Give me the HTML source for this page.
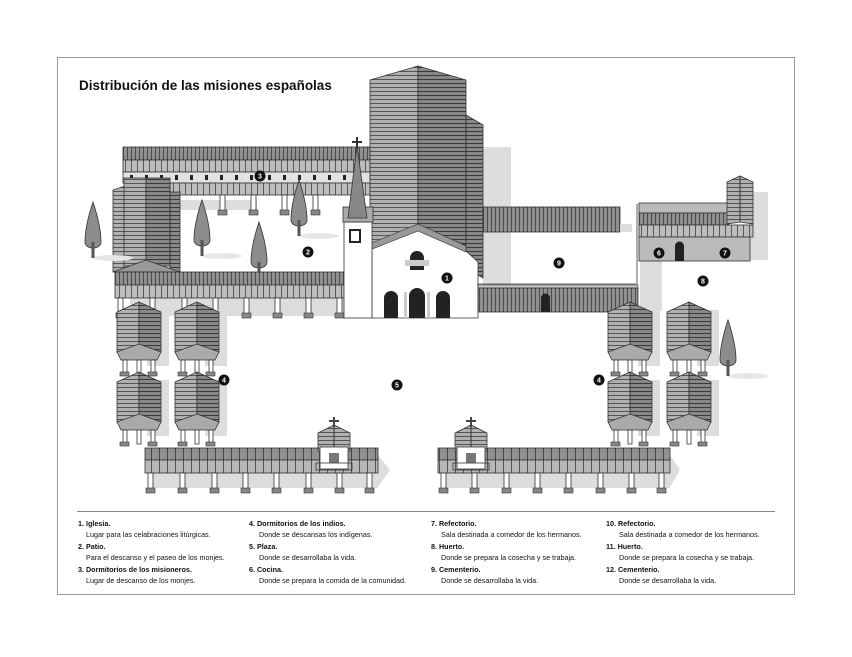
<!DOCTYPE html>
<html><head><meta charset="utf-8"><style>
html,body{margin:0;padding:0;background:#fff;}
body{width:852px;height:652px;overflow:hidden;font-family:"Liberation Sans",sans-serif;}
</style></head><body>
<svg width="852" height="652" viewBox="0 0 852 652" xmlns="http://www.w3.org/2000/svg" font-family="Liberation Sans, sans-serif">
<defs>
<pattern id="hs" width="6" height="4" patternUnits="userSpaceOnUse"><rect width="6" height="4" fill="#b0b0b0"/><rect y="3" width="6" height="1" fill="#555"/></pattern>
<pattern id="hsd" width="6" height="4" patternUnits="userSpaceOnUse"><rect width="6" height="4" fill="#888"/><rect y="3" width="6" height="1" fill="#3a3a3a"/></pattern>
<pattern id="vs" width="4" height="6" patternUnits="userSpaceOnUse"><rect width="4" height="6" fill="#909090"/><rect x="3" width="1" height="6" fill="#4a4a4a"/></pattern>
<pattern id="vsl" width="6" height="6" patternUnits="userSpaceOnUse"><rect width="6" height="6" fill="#bdbdbd"/><rect x="5" width="1" height="6" fill="#5a5a5a"/></pattern>
<pattern id="vsc" width="8" height="6" patternUnits="userSpaceOnUse"><rect width="8" height="6" fill="#909090"/><rect x="7" width="1" height="6" fill="#444"/></pattern>
<pattern id="vscl" width="8" height="6" patternUnits="userSpaceOnUse"><rect width="8" height="6" fill="#b8b8b8"/><rect x="7" width="1" height="6" fill="#555"/></pattern>
<g id="hut">
<rect x="30" y="8" width="22" height="56" fill="#ddd"/>
<polygon points="0,10 22,0 22,46 0,50" fill="url(#hs)" stroke="#333" stroke-width="0.8"/>
<polygon points="22,0 44,10 44,50 22,46" fill="url(#hsd)" stroke="#333" stroke-width="0.8"/>
<polygon points="0,50 22,42 44,50 40,58 4,58" fill="#aaa" stroke="#333" stroke-width="0.8"/>
<rect x="6" y="58" width="4" height="14" fill="#fff" stroke="#333" stroke-width="0.8"/>
<rect x="20" y="58" width="4" height="14" fill="#fff" stroke="#333" stroke-width="0.8"/>
<rect x="34" y="58" width="4" height="14" fill="#fff" stroke="#333" stroke-width="0.8"/>
<rect x="3" y="70" width="9" height="4" fill="#888" stroke="#333" stroke-width="0.6"/>
<rect x="31" y="70" width="9" height="4" fill="#888" stroke="#333" stroke-width="0.6"/>
</g>
<g id="tree">
<ellipse cx="20" cy="28" rx="20" ry="3" fill="#e6e6e6"/>
<path d="M0,-28 C-4,-16 -8,0 -8,12 C-8,20 8,20 8,12 C8,0 4,-16 0,-28Z" fill="#8c8c8c" stroke="#333" stroke-width="0.8"/>
<rect x="-1.5" y="12" width="3" height="16" fill="#555"/>
</g>
<g id="post"><rect x="0" y="0" width="5" height="16" fill="#fff" stroke="#333" stroke-width="0.8"/><rect x="-2" y="15" width="9" height="5" fill="#888" stroke="#333" stroke-width="0.6"/></g>
<g id="chapel">
<polygon points="0,8 16,0 32,8 32,26 0,26" fill="url(#hs)" stroke="#333" stroke-width="0.8"/>
<line x1="16" y1="0" x2="16" y2="26" stroke="#333"/>
<rect x="15" y="-8" width="2" height="10" fill="#444"/><rect x="11" y="-5" width="10" height="2" fill="#444"/>
<rect x="2" y="22" width="28" height="22" fill="#fff" stroke="#333" stroke-width="0.8"/>
<rect x="11" y="28" width="10" height="10" fill="#777"/>
<rect x="-2" y="38" width="36" height="7" fill="none" stroke="#333" stroke-width="0.8"/>
</g>
</defs>

<rect x="57.5" y="57.5" width="737" height="537" fill="#fff" stroke="#999" stroke-width="1"/>
<text x="79" y="90" font-size="13.5" font-weight="bold" fill="#111">Distribución de las misiones españolas</text>

<rect x="483" y="147" width="28" height="60" fill="#ddd"/>
<rect x="483" y="232" width="28" height="56" fill="#ddd"/>
<rect x="640" y="261" width="22" height="50" fill="#ddd"/>
<rect x="750" y="192" width="18" height="68" fill="#ddd"/>
<rect x="157" y="200" width="100" height="10" fill="#ddd"/>
<rect x="130" y="298" width="215" height="18" fill="#ddd"/>

<rect x="123" y="147" width="247" height="13" fill="url(#vs)" stroke="#333" stroke-width="0.8"/>
<rect x="123" y="160" width="247" height="12" fill="url(#vsl)" stroke="#333" stroke-width="0.8"/>
<rect x="123" y="172" width="247" height="11" fill="#e2e2e2" stroke="#333" stroke-width="0.8"/>
<g fill="#222">
<rect x="130" y="175" width="3" height="5"/><rect x="145" y="175" width="3" height="5"/><rect x="160" y="175" width="3" height="5"/><rect x="175" y="175" width="3" height="5"/><rect x="190" y="175" width="3" height="5"/><rect x="205" y="175" width="3" height="5"/><rect x="220" y="175" width="3" height="5"/><rect x="235" y="175" width="3" height="5"/><rect x="250" y="175" width="3" height="5"/><rect x="268" y="175" width="3" height="5"/><rect x="283" y="175" width="3" height="5"/><rect x="298" y="175" width="3" height="5"/><rect x="313" y="175" width="3" height="5"/><rect x="328" y="175" width="3" height="5"/><rect x="343" y="175" width="3" height="5"/><rect x="358" y="175" width="3" height="5"/>
</g>
<rect x="170" y="183" width="200" height="12" fill="url(#vsl)" stroke="#333" stroke-width="0.8"/>
<use href="#post" x="220" y="195"/><use href="#post" x="251" y="195"/><use href="#post" x="282" y="195"/><use href="#post" x="313" y="195"/>

<polygon points="113,190 125,186 125,270 113,272" fill="url(#hs)" stroke="#333" stroke-width="0.8"/>
<rect x="124" y="178" width="22" height="88" fill="url(#hs)" stroke="#333" stroke-width="0.8"/>
<rect x="146" y="178" width="24" height="88" fill="url(#hsd)" stroke="#333" stroke-width="0.8"/>
<rect x="170" y="192" width="10" height="80" fill="url(#hsd)" stroke="#333" stroke-width="0.8"/>
<polygon points="113,272 146,260 180,272" fill="#999" stroke="#333" stroke-width="0.8"/>

<use href="#tree" x="93" y="230"/>
<use href="#tree" x="202" y="228"/>
<use href="#tree" x="259" y="250"/>
<use href="#tree" x="299" y="208"/>
<use href="#tree" x="728" y="348"/>

<rect x="115" y="272" width="230" height="13" fill="url(#vs)" stroke="#333" stroke-width="0.8"/>
<rect x="115" y="285" width="230" height="13" fill="url(#vsl)" stroke="#333" stroke-width="0.8"/>
<use href="#post" x="118" y="298"/><use href="#post" x="150" y="298"/><use href="#post" x="182" y="298"/><use href="#post" x="213" y="298"/><use href="#post" x="244" y="298"/><use href="#post" x="275" y="298"/><use href="#post" x="306" y="298"/><use href="#post" x="337" y="298"/>

<polygon points="370,80 418,66 418,228 370,245" fill="url(#hs)" stroke="#333" stroke-width="0.8"/>
<polygon points="418,66 466,80 466,245 418,228" fill="url(#hsd)" stroke="#333" stroke-width="0.8"/>
<polygon points="466,115 483,125 483,278 466,268" fill="url(#hsd)" stroke="#333" stroke-width="0.8"/>
<polygon points="372,248 418,228 465,250 478,262 478,318 372,318" fill="#fff" stroke="#333" stroke-width="0.8"/>
<polygon points="367,245 418,224 466,246 466,252 418,231 367,251" fill="#999" stroke="#333" stroke-width="0.6"/>
<path d="M410,258 a7,7 0 0 1 14,0 v12 h-14z" fill="#222"/>
<rect x="405" y="260" width="24" height="6" fill="#ccc"/>
<path d="M384,298 a7,7 0 0 1 14,0 v20 h-14z" fill="#222"/>
<path d="M409,296 a8,8 0 0 1 16,0 v22 h-16z" fill="#222"/>
<path d="M436,298 a7,7 0 0 1 14,0 v20 h-14z" fill="#222"/>
<rect x="404" y="292" width="3" height="26" fill="#ccc"/><rect x="427" y="292" width="3" height="26" fill="#ccc"/>
<rect x="344" y="222" width="28" height="96" fill="#fff" stroke="#333" stroke-width="0.8"/>
<rect x="343" y="207" width="30" height="15" fill="#aaa" stroke="#333" stroke-width="0.8"/>
<polygon points="357,146 348,218 367,218" fill="#888" stroke="#333" stroke-width="0.8"/>
<rect x="356" y="137" width="2" height="12" fill="#333"/><rect x="352" y="141" width="10" height="2" fill="#333"/>
<rect x="350" y="230" width="10" height="12" fill="#fff" stroke="#222" stroke-width="2"/>

<rect x="483" y="207" width="137" height="25" fill="url(#vs)" stroke="#333" stroke-width="0.8"/>
<rect x="620" y="224" width="12" height="8" fill="#ddd"/>
<line x1="477" y1="284" x2="636" y2="284" stroke="#333" stroke-width="0.8"/>
<line x1="637" y1="204" x2="637" y2="288" stroke="#333" stroke-width="0.8"/>
<rect x="478" y="285" width="160" height="3" fill="#ccc" stroke="#333" stroke-width="0.6"/>
<rect x="478" y="288" width="160" height="24" fill="url(#vs)" stroke="#333" stroke-width="0.8"/>
<path d="M541,298 a4,4 0 0 1 9,0 v14 h-9z" fill="#222"/>
<rect x="639" y="203" width="90" height="10" fill="#bbb" stroke="#333" stroke-width="0.8"/>
<rect x="639" y="213" width="90" height="12" fill="url(#vs)" stroke="#333" stroke-width="0.8"/>
<rect x="639" y="225" width="114" height="12" fill="url(#vsl)" stroke="#333" stroke-width="0.8"/>
<rect x="639" y="237" width="111" height="24" fill="#bbb" stroke="#333" stroke-width="0.8"/>
<path d="M675,246 a4,4 0 0 1 9,0 v15 h-9z" fill="#222"/>
<polygon points="727,182 740,176 753,182 753,224 740,222 727,224" fill="url(#hs)" stroke="#333" stroke-width="0.8"/>
<line x1="740" y1="176" x2="740" y2="222" stroke="#333"/>

<use href="#hut" x="117" y="302"/><use href="#hut" x="175" y="302"/>
<use href="#hut" x="117" y="372"/><use href="#hut" x="175" y="372"/>
<use href="#hut" x="608" y="302"/><use href="#hut" x="667" y="302"/>
<use href="#hut" x="608" y="372"/><use href="#hut" x="667" y="372"/>

<polygon points="378,455 390,470 378,487" fill="#ddd"/>
<rect x="150" y="472" width="228" height="16" fill="#ddd"/>
<rect x="145" y="448" width="233" height="12" fill="url(#vsc)" stroke="#333" stroke-width="0.8"/>
<rect x="145" y="460" width="233" height="13" fill="url(#vscl)" stroke="#333" stroke-width="0.8"/>
<use href="#post" x="148" y="473"/><use href="#post" x="180" y="473"/><use href="#post" x="212" y="473"/><use href="#post" x="243" y="473"/><use href="#post" x="274" y="473"/><use href="#post" x="306" y="473"/><use href="#post" x="337" y="473"/><use href="#post" x="367" y="473"/>
<use href="#chapel" x="318" y="425"/>
<polygon points="670,455 680,470 670,487" fill="#ddd"/>
<rect x="443" y="472" width="227" height="16" fill="#ddd"/>
<rect x="438" y="448" width="232" height="12" fill="url(#vsc)" stroke="#333" stroke-width="0.8"/>
<rect x="438" y="460" width="232" height="13" fill="url(#vscl)" stroke="#333" stroke-width="0.8"/>
<use href="#post" x="441" y="473"/><use href="#post" x="472" y="473"/><use href="#post" x="504" y="473"/><use href="#post" x="535" y="473"/><use href="#post" x="566" y="473"/><use href="#post" x="598" y="473"/><use href="#post" x="629" y="473"/><use href="#post" x="659" y="473"/>
<use href="#chapel" x="455" y="425"/>

<g font-size="7" font-weight="bold" fill="#fff" text-anchor="middle">
<circle cx="260" cy="176" r="5.5" fill="#111"/><text x="260" y="178.5">3</text>
<circle cx="308" cy="252" r="5.5" fill="#111"/><text x="308" y="254.5">2</text>
<circle cx="447" cy="278" r="5.5" fill="#111"/><text x="447" y="280.5">1</text>
<circle cx="559" cy="263" r="5.5" fill="#111"/><text x="559" y="265.5">9</text>
<circle cx="659" cy="253" r="5.5" fill="#111"/><text x="659" y="255.5">6</text>
<circle cx="725" cy="253" r="5.5" fill="#111"/><text x="725" y="255.5">7</text>
<circle cx="703" cy="281" r="5.5" fill="#111"/><text x="703" y="283.5">8</text>
<circle cx="224" cy="380" r="5.5" fill="#111"/><text x="224" y="382.5">4</text>
<circle cx="397" cy="385" r="5.5" fill="#111"/><text x="397" y="387.5">5</text>
<circle cx="599" cy="380" r="5.5" fill="#111"/><text x="599" y="382.5">4</text>
</g>

<line x1="77" y1="511.5" x2="775" y2="511.5" stroke="#888" stroke-width="1"/>
<g font-size="7.2" fill="#111">
<text x="78" y="526" font-weight="bold">1. Iglesia.</text><text x="86" y="537">Lugar para las celabraciones litúrgicas.</text>
<text x="78" y="549" font-weight="bold">2. Patio.</text><text x="86" y="560">Para el descanso y el paseo de los monjes.</text>
<text x="78" y="572" font-weight="bold">3. Dormitorios de los misioneros.</text><text x="86" y="583">Lugar de descanso de los monjes.</text>
<text x="249" y="526" font-weight="bold">4. Dormitorios de los indios.</text><text x="259" y="537">Donde se descansas los indígenas.</text>
<text x="249" y="549" font-weight="bold">5. Plaza.</text><text x="259" y="560">Donde se desarrollaba la vida.</text>
<text x="249" y="572" font-weight="bold">6. Cocina.</text><text x="259" y="583">Donde se prepara la comida de la comunidad.</text>
<text x="431" y="526" font-weight="bold">7. Refectorio.</text><text x="441" y="537">Sala destinada a comedor de los hermanos.</text>
<text x="431" y="549" font-weight="bold">8. Huerto.</text><text x="441" y="560">Donde se prepara la cosecha y se trabaja.</text>
<text x="431" y="572" font-weight="bold">9. Cementerio.</text><text x="441" y="583">Donde se desarrollaba la vida.</text>
<text x="606" y="526" font-weight="bold">10. Refectorio.</text><text x="619" y="537">Sala destinada a comedor de los hermanos.</text>
<text x="606" y="549" font-weight="bold">11. Huerto.</text><text x="619" y="560">Donde se prepara la cosecha y se trabaja.</text>
<text x="606" y="572" font-weight="bold">12. Cementerio.</text><text x="619" y="583">Donde se desarrollaba la vida.</text>
</g>
</svg>
</body></html>
